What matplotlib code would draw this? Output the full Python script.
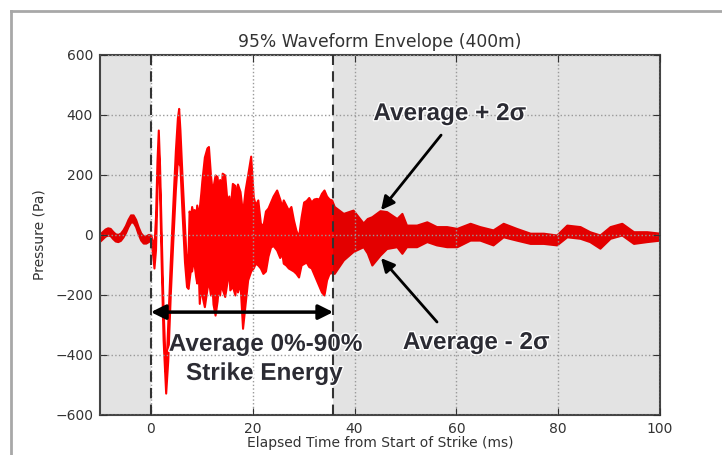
import numpy as np
import matplotlib.pyplot as plt
import matplotlib.patheffects as pe
from matplotlib.lines import Line2D

# --- envelope (ms, Pa) ---
# before the strike
t_pre = [-10, -9.5, -9, -8.5, -8, -7.5, -7, -6.5, -6, -5.5, -5, -4.5, -4, -3.5,
         -3, -2.5, -2, -1.5, -1, -0.5]
up_pre = [4, 12, 20, 24, 22, 12, 4, 2, 6, 17, 32, 52, 67, 67, 52, 27, 7, -3, -3, 2]
lo_pre = [-20, -12, -4, 0, -2, -12, -20, -22, -18, -7, 8, 28, 43, 43, 28, 3, -17,
          -27, -27, -22]

# first big swings
t_hit = [0.0, 0.3, 0.6, 0.9, 1.2, 1.45, 1.7, 2.0, 2.4, 2.9, 3.3, 3.8, 4.3, 4.8,
         5.2, 5.45, 5.7, 6.1, 6.6, 7.0, 7.3]
up_hit = [0, -20, -40, 60, 250, 350, 230, 20, -250, -470, -300, -90, 100, 280,
          390, 422, 350, 200, 30, -110, -60]
lo_hit = [-15, -60, -110, -50, 150, 290, 150, -80, -350, -527, -420, -200, -20,
          150, 250, 240, 230, 80, -90, -172, -178]

# dense part up to 90% energy
t_mid = [7.5, 7.8, 8.0, 8.3, 8.5, 8.8, 9.0, 9.3, 9.5, 9.8, 10.0, 10.5, 11.0,
         11.3, 11.7, 12.0, 12.2, 12.6, 13.0, 13.3, 13.5, 13.8, 14.0, 14.5, 15.0,
         15.3, 15.5, 16.0, 16.5, 16.8, 17.0, 17.5, 18.0, 18.5, 19.0, 19.6, 20.1,
         20.5, 21.0, 21.5, 22.0, 22.5, 23.0, 23.5, 24.0, 24.7, 25.3, 25.7, 26.0,
         26.5, 27.0, 27.5, 28.0, 28.5, 29.0, 29.5, 30.0, 30.5, 31.0, 31.5, 32.0,
         32.5, 33.0, 33.5, 34.0, 34.5, 35.0, 35.5]
up_mid = [80, 60, 95, 70, 85, 60, 100, 70, 90, 140, 180, 260, 290, 295, 200, 150,
          160, 200, 195, 140, 185, 150, 206, 200, 100, 130, 75, 172, 165, 120, 170,
          145, 73, 150, 200, 263, 128, 100, 117, 40, 30, 80, 90, 110, 130, 150, 120,
          95, 117, 100, 83, 95, 50, 15, -5, 60, 110, 115, 125, 110, 120, 122, 120,
          139, 150, 130, 120, 117]
lo_mid = [-150, -110, -120, -80, -100, -140, -160, -120, -228, -150, -200, -239,
          -180, -150, -200, -170, -230, -267, -220, -160, -200, -150, -180, -205,
          -150, -120, -183, -170, -200, -140, -190, -160, -311, -230, -150, -120,
          -110, -94, -100, -110, -128, -120, -70, -40, -35, -50, -75, -60, -94,
          -100, -110, -115, -120, -128, -140, -100, -95, -90, -105, -110, -130,
          -150, -170, -190, -200, -150, -128, -125]

# tail
t_end = [36.0, 37.8, 39.7, 41.7, 42.5, 43.4, 45.0, 46.3, 48.3, 49.3, 50.2, 52.2,
         54.2, 56.1, 58.1, 60.1, 62.7, 64.6, 67.2, 69.2, 71.8, 74.5, 77.1, 79.7,
         81.7, 84.3, 86.2, 88.2, 90.2, 92.5, 94.8, 97.4, 100]
up_end = [95, 72, 83, 40, 55, 61, 81, 78, 55, 72, 33, 33, 44, 28, 28, 22, 39, 28,
          17, 39, 22, 6, 6, 0, 33, 28, 11, 0, 28, 39, 11, 11, 6]
lo_end = [-128, -83, -55, -39, -60, -100, -67, -45, -39, -61, -39, -39, -22, -33,
          -39, -39, -17, -17, -33, -6, -17, -28, -28, -33, -6, -11, -22, -44, -11,
          0, -28, -22, -17]

t90 = 35.8  # end of 0%-90% energy window

t = np.concatenate([t_pre, t_hit, t_mid, t_end])
upper = np.concatenate([up_pre, up_hit, up_mid, up_end])
lower = np.concatenate([lo_pre, lo_hit, lo_mid, lo_end])

fig = plt.figure(figsize=(7.22, 4.55), dpi=100)
ax = fig.add_axes([100 / 722, 1 - 415 / 455, 560 / 722, 360 / 455])

ax.fill_between(t, lower, upper, facecolor='red', edgecolor='red', lw=1.5, zorder=1)
ax.axvspan(-10, 0, color='k', alpha=0.11, lw=0, zorder=2)
ax.axvspan(t90, 100, color='k', alpha=0.11, lw=0, zorder=2)
ax.axvline(0, color='#333333', ls='--', lw=1.5, dashes=(5, 3), zorder=3)
ax.axvline(t90, color='#333333', ls='--', lw=1.5, dashes=(5, 3), zorder=3)

ax.set_xlim(-10, 100)
ax.set_ylim(-600, 600)
ax.set_xticks([0, 20, 40, 60, 80, 100])
ax.set_yticks([-600, -400, -200, 0, 200, 400, 600])
ax.set_axisbelow(False)
ax.grid(True, color='#999999', ls=':', lw=1)
ax.tick_params(direction='in', top=True, right=True, labelsize=10, length=5,
               colors='#333333', labelcolor='#333333')
ax.tick_params(axis='x', pad=5)
ax.tick_params(axis='y', pad=5)
for s in ax.spines.values():
    s.set_color('#444444')
    s.set_linewidth(1.5)

ax.set_title('95% Waveform Envelope (400m)', fontsize=12.3, color='#333333', pad=6)
ax.set_xlabel('Elapsed Time from Start of Strike (ms)', fontsize=10,
              color='#333333', labelpad=0)
ax.set_ylabel('Pressure (Pa)', fontsize=10, color='#333333', labelpad=6)

# annotations
bold = dict(family=['Liberation Sans', 'DejaVu Sans'], fontsize=17.5,
            fontweight='bold', color='#2b2b33', zorder=5,
            path_effects=[pe.withStroke(linewidth=2, foreground='white')])
ax.annotate('', xy=(t90, -257), xytext=(0, -257),
            arrowprops=dict(arrowstyle='<|-|>', mutation_scale=22, lw=2.5,
                            color='k', shrinkA=0, shrinkB=0), zorder=5)
ax.text(22.5, -386, 'Average 0%-90%', ha='center', va='baseline', **bold)
ax.text(22.3, -483, 'Strike Energy', ha='center', va='baseline', **bold)

ax.annotate('', xy=(45.2, 83), xytext=(57, 333),
            arrowprops=dict(arrowstyle='-|>', mutation_scale=20, lw=2,
                            color='k', shrinkA=0, shrinkB=0), zorder=5)
ax.text(58.7, 383, 'Average + 2σ', ha='center', va='baseline', **bold)
ax.annotate('', xy=(45.2, -77), xytext=(56.2, -290),
            arrowprops=dict(arrowstyle='-|>', mutation_scale=20, lw=2,
                            color='k', shrinkA=0, shrinkB=0), zorder=5)
ax.text(63.9, -380, 'Average - 2σ', ha='center', va='baseline', **bold)

# slide frame around the chart
fig.add_artist(Line2D([11 / 722, 1], [1 - 11 / 455, 1 - 11 / 455],
                      color='#a8a8a8', lw=2))
fig.add_artist(Line2D([11 / 722, 11 / 722], [0, 1 - 11 / 455],
                      color='#a8a8a8', lw=2))

fig.savefig('out.png', dpi=100)
